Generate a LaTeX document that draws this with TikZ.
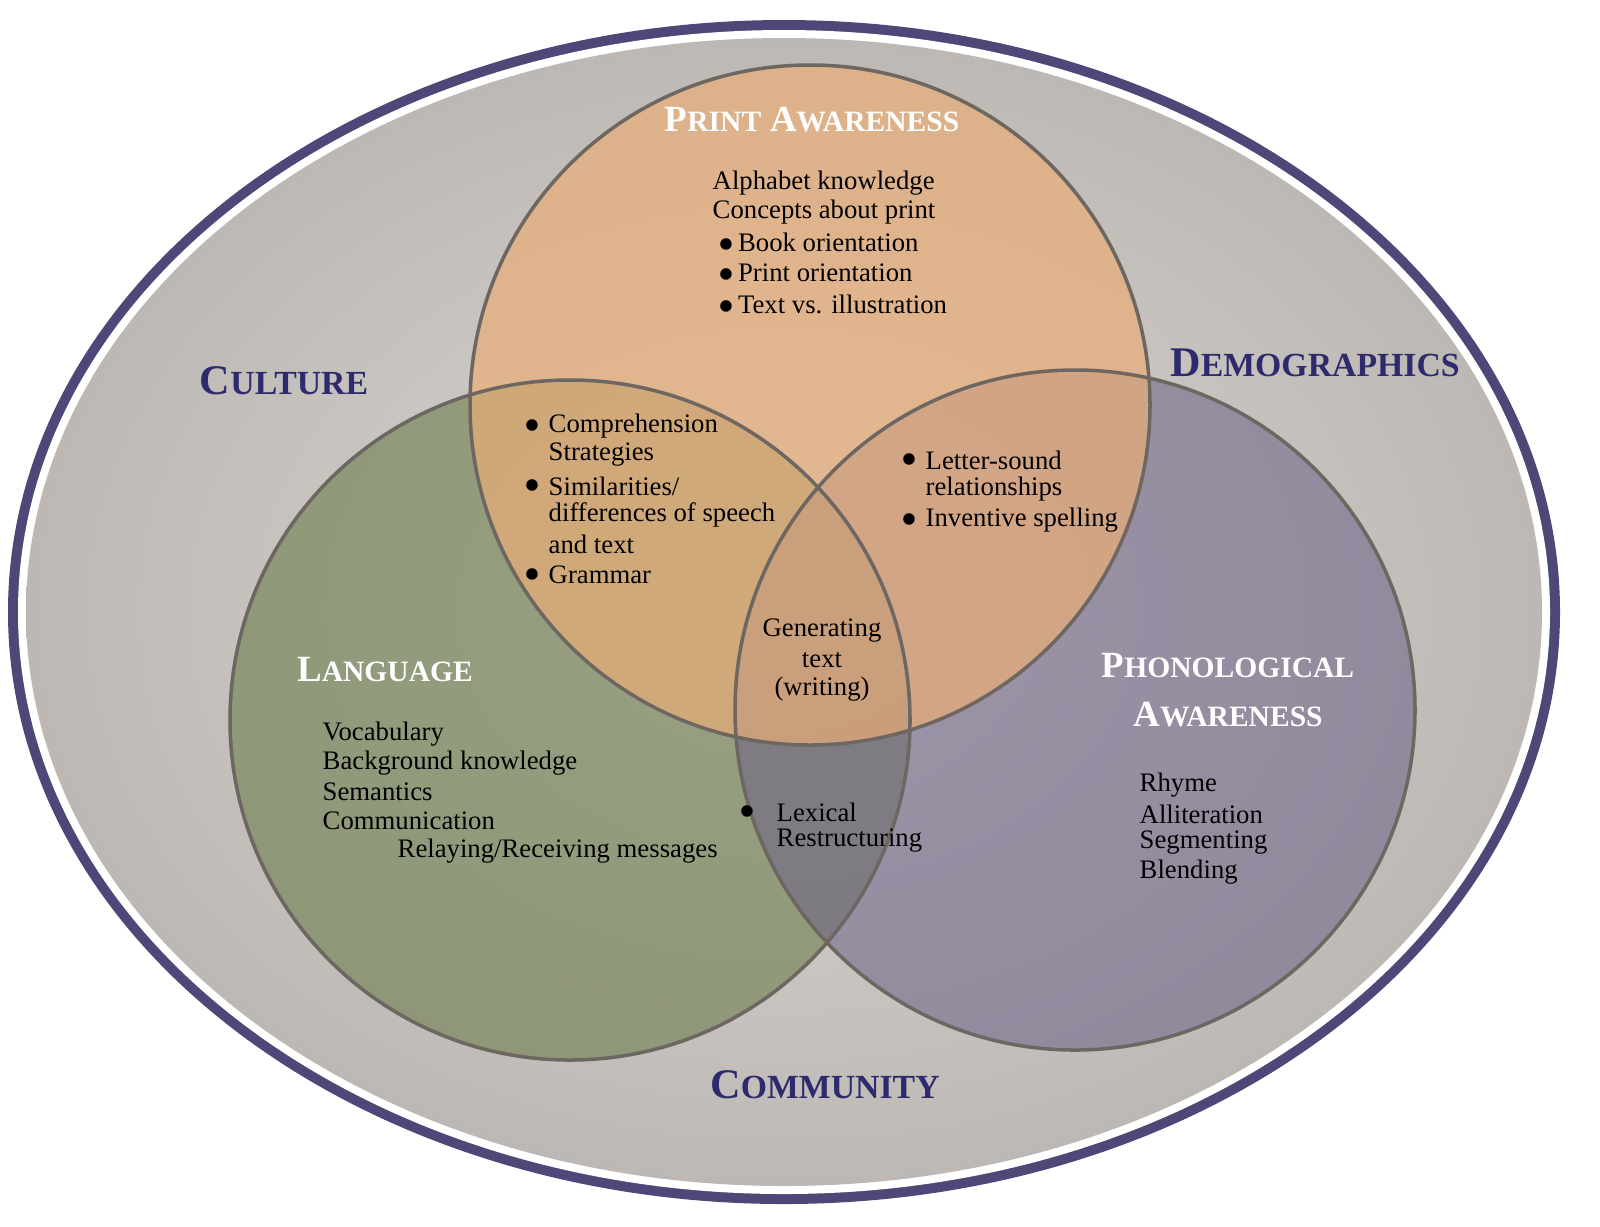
\documentclass[tikz,border=0pt]{standalone}
\usepackage{fontspec}
\setmainfont{Liberation Serif}
\definecolor{navy}{HTML}{2E2A6E}
\definecolor{rim}{HTML}{4E4878}
\definecolor{edge}{HTML}{6E6660}
\definecolor{printc}{HTML}{EAAE78}
\definecolor{langc}{HTML}{6C7E4C}
\definecolor{phonc}{HTML}{6E6088}
\definecolor{bgin}{HTML}{DAD7D4}
\definecolor{bgout}{HTML}{BDB8B3}
\tikzset{
 txt/.style={anchor=west,inner sep=0pt,font=\fontsize{7.6}{9}\selectfont},
 ctxt/.style={inner sep=0pt,font=\fontsize{7.6}{9}\selectfont},
 circ/.style={draw=edge,line width=1pt},
 head/.style={inner sep=0pt,text=white,font=\bfseries,align=center},
 ctx/.style={inner sep=0pt,text=navy,font=\bfseries}
}
\newcommand{\bigc}[1]{{\fontsize{10.5}{12}\selectfont #1}}
\newcommand{\smc}[1]{{\fontsize{8.4}{10}\selectfont #1}}
\newcommand{\Bc}[1]{{\fontsize{12}{14}\selectfont #1}}
\newcommand{\Sc}[1]{{\fontsize{9.6}{12}\selectfont #1}}
\begin{document}
\begin{tikzpicture}[x=0.01cm,y=-0.01cm]
\useasboundingbox[fill=white] (0,0) rectangle (1600,1226);
\fill[rim] (784,612) ellipse [x radius=776,y radius=592];
\fill[white] (784,612) ellipse [x radius=766,y radius=582];
\shade[inner color=bgin,outer color=bgout] (784,612) ellipse [x radius=758,y radius=574];
\fill[langc,fill opacity=0.6] (570,720) circle [radius=340];
\fill[phonc,fill opacity=0.55] (1075,710) circle [radius=340];
\fill[printc,fill opacity=0.7] (810,405) circle [radius=340];
\draw[circ] (570,720) circle [radius=340];
\draw[circ] (1075,710) circle [radius=340];
\draw[circ] (810,405) circle [radius=340];
% headings
\node[head] (hp) at (812,120) {\bigc{P}\smc{RINT} \bigc{A}\smc{WARENESS}};
\node[head] (hl) at (385,670) {\bigc{L}\smc{ANGUAGE}};
\node[head] (hph) at (1228,690) {\bigc{P}\smc{HONOLOGICAL}\\[2pt]\bigc{A}\smc{WARENESS}};
\node[ctx] (cu) at (284,381) {\Bc{C}\Sc{ULTURE}};
\node[ctx] (de) at (1315,363) {\Bc{D}\Sc{EMOGRAPHICS}};
\node[ctx] (co) at (825,1085) {\Bc{C}\Sc{OMMUNITY}};
% print
\node[txt] (p1) at (712,183) {Alphabet knowledge};
\node[txt] (p2) at (712,212) {Concepts about print};
\node[txt] (p3) at (718,242) {$\bullet$\,Book orientation};
\node[txt] (p4) at (718,273) {$\bullet$\,Print orientation};
\node[txt] (p5) at (718,304) {$\bullet$\,Text vs. illustration};
% language
\node[txt] (l1) at (322,734) {Vocabulary};
\node[txt] (l2) at (322,763) {Background knowledge};
\node[txt] (l3) at (322,792) {Semantics};
\node[txt] (l4) at (322,821) {Communication};
\node[txt] (l5) at (397,851) {Relaying/Receiving messages};
% print-language
\node[txt] (a0) at (524,426) {$\bullet$};
\node[txt] (a1) at (548,426) {Comprehension};
\node[txt] (a2) at (548,455) {Strategies};
\node[txt] (b0) at (524,486) {$\bullet$};
\node[txt] (a3) at (548,486) {Similarities/};
\node[txt] (a4) at (548,515) {differences of speech};
\node[txt] (a5) at (548,544) {and text};
\node[txt] (c0) at (524,575) {$\bullet$};
\node[txt] (a6) at (548,575) {Grammar};
% print-phono
\node[txt] (d0) at (901,460) {$\bullet$};
\node[txt] (d1) at (925,460) {Letter-sound};
\node[txt] (d2) at (925,489) {relationships};
\node[txt] (e0) at (901,520) {$\bullet$};
\node[txt] (d3) at (925,520) {Inventive spelling};
% center
\node[ctxt] (g1) at (822,631) {Generating};
\node[ctxt] (g2) at (822,660) {text};
\node[ctxt] (g3) at (822,689) {(writing)};
% lang-phono
\node[txt] (f0) at (739,812) {$\bullet$};
\node[txt] (f1) at (776,812) {Lexical};
\node[txt] (f2) at (776,841) {Restructuring};
% phono
\node[txt] (r1) at (1139,785) {Rhyme};
\node[txt] (r2) at (1139,814) {Alliteration};
\node[txt] (r3) at (1139,843) {Segmenting};
\node[txt] (r4) at (1139,872) {Blending};
\end{tikzpicture}
\end{document}
